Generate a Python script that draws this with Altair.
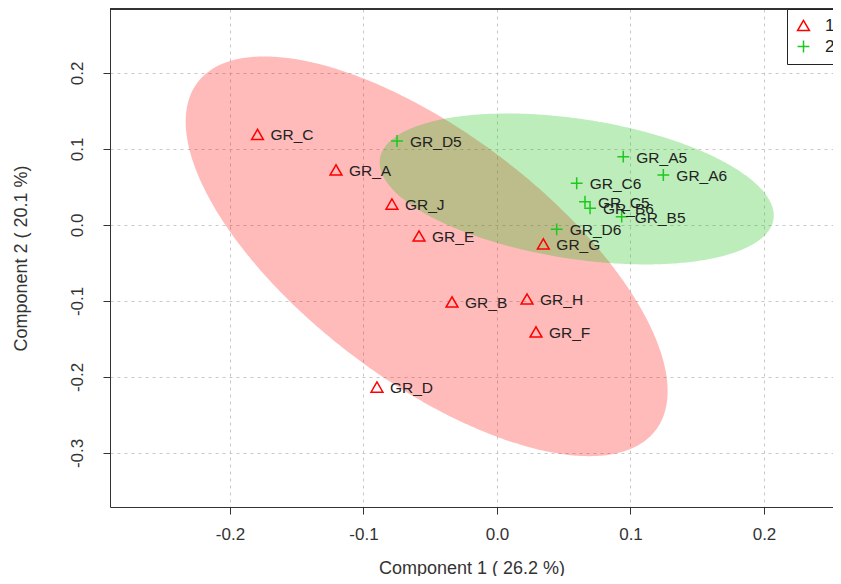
import altair as alt
import numpy as np
import pandas as pd

# ---- data ----
names1 = ["GR_C", "GR_A", "GR_J", "GR_E", "GR_B", "GR_H", "GR_F", "GR_D", "GR_G"]
comp1_g1 = [-0.1794, -0.1206, -0.0787, -0.0584, -0.0337, 0.0225, 0.0292, -0.0899, 0.0347]
comp2_g1 = [0.1191, 0.0724, 0.0276, -0.0145, -0.1013, -0.0974, -0.1408, -0.2132, -0.0250]

names2 = ["GR_D5", "GR_A5", "GR_A6", "GR_C6", "GR_C5", "GR_B6", "GR_B5", "GR_D6"]
comp1_g2 = [-0.0749, 0.0946, 0.1246, 0.0597, 0.0659, 0.0697, 0.0934, 0.0447]
comp2_g2 = [0.1105, 0.0899, 0.0658, 0.0549, 0.0307, 0.0220, 0.0109, -0.0057]

groups = ["1", "2"]
x_ticks = [-0.2, -0.1, 0.0, 0.1, 0.2]
y_ticks = [-0.3, -0.2, -0.1, 0.0, 0.1, 0.2]

# ellipse parameters (center, half-width, half-height, covariance-like tilt term)
ell1 = dict(cx=-0.0527, cy=-0.0412, hx=0.1805, hy=0.263, cxy=-0.032)
ell2 = dict(cx=0.0597, cy=0.0474, hx=0.1476, hy=0.0993, cxy=-0.00515)

# ---- build tables ----
pts = pd.DataFrame({
    "name": names1 + names2,
    "c1": comp1_g1 + comp1_g2,
    "c2": comp2_g1 + comp2_g2,
    "group": [groups[0]] * len(names1) + [groups[1]] * len(names2),
})


def ellipse_band(p, n=241):
    t = np.linspace(0, np.pi, n)
    c, s = np.cos(t), np.sin(t)
    l21 = p["cxy"] / p["hx"]
    l22 = np.sqrt(p["hy"] ** 2 - l21 ** 2)
    return pd.DataFrame({
        "ex": p["cx"] + p["hx"] * c,
        "ylo": p["cy"] + l21 * c - l22 * s,
        "yhi": p["cy"] + l21 * c + l22 * s,
    })


e1 = ellipse_band(ell1)
e2 = ellipse_band(ell2)

W, H = 723, 498
xs = alt.Scale(domain=[-0.28989, 0.25169], nice=False, zero=False)
ys = alt.Scale(domain=[-0.3711, 0.2842], nice=False, zero=False)

FONT = "Liberation Sans"
AX = "#333333"
grid_dash = [3, 4]

lab_expr = "datum.value < 0 ? '-' + format(-datum.value, '.1f') : format(datum.value, '.1f')"

xaxis = alt.Axis(
    values=x_ticks, labelExpr=lab_expr, title="Component 1 ( 26.2 %)",
    grid=True, gridColor="#c8c8c8", gridDash=grid_dash, gridWidth=1,
    domainColor=AX, domainWidth=1, tickColor=AX, tickSize=7, tickWidth=1,
    labelFont=FONT, labelFontSize=17, labelColor="#333333", labelPadding=12,
    titleFont=FONT, titleFontSize=18, titleFontWeight="normal", titleColor="#333333",
    titlePadding=17, orient="bottom",
)
yaxis = alt.Axis(
    values=y_ticks, labelExpr=lab_expr, title="Component 2 ( 20.1 %)",
    grid=True, gridColor="#c8c8c8", gridDash=grid_dash, gridWidth=1,
    domainColor=AX, domainWidth=1, tickColor=AX, tickSize=7, tickWidth=1,
    labelFont=FONT, labelFontSize=17, labelColor="#333333", labelPadding=17,
    labelAngle=270, labelAlign="center", labelBaseline="bottom",
    titleFont=FONT, titleFontSize=18, titleFontWeight="normal", titleColor="#333333",
    titlePadding=38, orient="left",
)

red_ell = alt.Chart(e1).mark_area(color="#ff0000", opacity=0.27).encode(
    x=alt.X("ex:Q", scale=xs, axis=xaxis),
    y=alt.Y("ylo:Q", scale=ys, axis=yaxis),
    y2="yhi:Q",
)
green_ell = alt.Chart(e2).mark_area(color="#22c41c", opacity=0.3).encode(
    x=alt.X("ex:Q", scale=xs, axis=xaxis),
    y=alt.Y("ylo:Q", scale=ys, axis=yaxis),
    y2="yhi:Q",
)

legend = alt.Legend(
    title=None, orient="none", legendX=677, legendY=0,
    strokeColor="#222222", fillColor="white", padding=8, rowPadding=3,
    labelFont=FONT, labelFontSize=17, labelColor="#222222", labelOffset=13,
    symbolSize=140, symbolStrokeWidth=1.5, symbolFillColor="transparent",
)

points = alt.Chart(pts).mark_point(filled=False, size=140, strokeWidth=1.5, opacity=1).encode(
    x=alt.X("c1:Q", scale=xs, axis=xaxis),
    y=alt.Y("c2:Q", scale=ys, axis=yaxis),
    color=alt.Color("group:N", scale=alt.Scale(domain=groups, range=["#ff0000", "#1ec81e"]), legend=legend),
    shape=alt.Shape("group:N", scale=alt.Scale(domain=groups, range=["triangle-up", "M-1,0H1M0,-1V1"]), legend=legend),
)

labels = alt.Chart(pts).mark_text(
    align="left", baseline="middle", dx=13, dy=1, fontSize=15.5, font=FONT, color="#222222"
).encode(
    x=alt.X("c1:Q", scale=xs, axis=xaxis),
    y=alt.Y("c2:Q", scale=ys, axis=yaxis),
    text="name:N",
)

top_border = alt.Chart(pts).mark_rule(color=AX, strokeWidth=1).encode(
    x=alt.value(0), x2=alt.value(W), y=alt.value(0)
)

chart = alt.layer(red_ell, green_ell, points, labels, top_border).properties(
    width=W, height=H,
    padding={"left": 102, "top": 1, "right": 0, "bottom": 69},
    autosize=alt.AutoSizeParams(type="none"),
    background="white",
).configure_view(stroke=None)

chart.save("out.html", embed_options={"renderer": "svg", "actions": False})
